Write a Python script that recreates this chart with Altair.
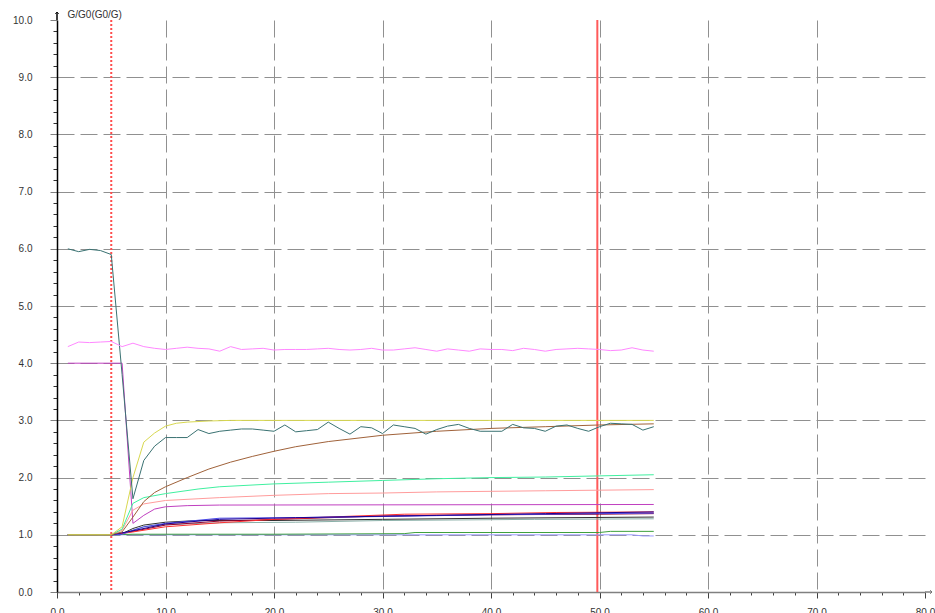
import altair as alt
import pandas as pd

# ---- time axis for the sampled traces ----
t_full = list(range(1, 56))

# noisy traces sampled every second
teal_v = [6.00, 5.95, 5.99, 5.97, 5.90, 3.80, 1.63, 2.30, 2.55, 2.70,
          2.70, 2.70, 2.84, 2.77, 2.81, 2.83, 2.85, 2.85, 2.83, 2.81,
          2.92, 2.80, 2.82, 2.84, 2.97, 2.86, 2.76, 2.89, 2.87, 2.77,
          2.92, 2.89, 2.86, 2.76, 2.84, 2.90, 2.93, 2.86, 2.81, 2.81,
          2.81, 2.93, 2.87, 2.86, 2.81, 2.90, 2.92, 2.86, 2.81, 2.89,
          2.95, 2.94, 2.93, 2.83, 2.89]
violet_v = [4.29, 4.37, 4.36, 4.37, 4.38, 4.29, 4.35, 4.29, 4.26, 4.24,
            4.26, 4.28, 4.26, 4.25, 4.21, 4.29, 4.24, 4.25, 4.26, 4.23,
            4.24, 4.24, 4.24, 4.25, 4.26, 4.24, 4.23, 4.24, 4.26, 4.23,
            4.23, 4.25, 4.27, 4.24, 4.21, 4.25, 4.23, 4.21, 4.25, 4.24,
            4.24, 4.22, 4.26, 4.24, 4.21, 4.24, 4.25, 4.26, 4.25, 4.24,
            4.22, 4.23, 4.27, 4.23, 4.21]

# smoother traces (time, value)
lavender_t = [1, 5, 20, 40, 53, 54, 55]
lavender_v = [1.00, 1.00, 1.00, 1.00, 1.00, 0.98, 0.98]
dkgreen_t = [1, 5, 7, 20, 32, 33, 50, 51, 55]
dkgreen_v = [1.00, 1.00, 1.01, 1.01, 1.02, 1.04, 1.04, 1.06, 1.06]
grayteal_t = [1, 5, 6, 7, 8, 10, 15, 22, 30, 44, 55]
grayteal_v = [1.00, 1.00, 1.01, 1.08, 1.14, 1.18, 1.21, 1.22, 1.25, 1.27, 1.28]
black_t = [1, 5, 6, 7, 8, 10, 13, 20, 30, 40, 55]
black_v = [1.00, 1.00, 1.02, 1.11, 1.17, 1.22, 1.25, 1.25, 1.27, 1.29, 1.31]
maroon_t = [1, 5, 7, 10, 15, 22, 30, 40, 50, 55]
maroon_v = [1.00, 1.00, 1.06, 1.17, 1.24, 1.28, 1.33, 1.35, 1.36, 1.37]
red_t = [1, 5, 7, 10, 15, 20, 25, 32, 40, 46, 55]
red_v = [1.00, 1.00, 1.05, 1.14, 1.21, 1.27, 1.31, 1.36, 1.37, 1.39, 1.40]
blue_t = [1, 5, 6, 7, 8, 10, 15, 22, 30, 40, 50, 55]
blue_v = [1.00, 1.00, 1.01, 1.08, 1.14, 1.20, 1.29, 1.30, 1.32, 1.35, 1.37, 1.38]
navy_t = [1, 5, 7, 10, 15, 22, 35, 45, 55]
navy_v = [1.00, 1.00, 1.07, 1.19, 1.27, 1.30, 1.34, 1.37, 1.40]
magenta_t = [1, 6, 7, 8, 9, 10, 12, 15, 55]
magenta_v = [4.00, 4.00, 1.20, 1.34, 1.45, 1.49, 1.51, 1.52, 1.53]
salmon_t = [1, 5, 6, 7, 8, 10, 13, 15, 20, 25, 30, 35, 40, 45, 50, 55]
salmon_v = [1.00, 1.00, 1.08, 1.43, 1.54, 1.60, 1.63, 1.65, 1.69, 1.72,
            1.73, 1.75, 1.76, 1.77, 1.78, 1.79]
spring_t = [1, 5, 6, 7, 8, 10, 13, 15, 20, 25, 30, 35, 40, 45, 50, 55]
spring_v = [1.00, 1.00, 1.10, 1.55, 1.65, 1.72, 1.80, 1.84, 1.89, 1.92,
            1.95, 1.98, 2.00, 2.01, 2.03, 2.05]
brown_t = [1, 5, 6, 7, 8, 9, 10, 12, 14, 16, 18, 20, 22, 25, 30, 35, 40, 45, 50, 55]
brown_v = [1.00, 1.00, 1.05, 1.31, 1.58, 1.74, 1.84, 2.00, 2.15, 2.27,
           2.37, 2.46, 2.54, 2.63, 2.74, 2.81, 2.86, 2.89, 2.92, 2.94]
yellow_t = [1, 5, 6, 7, 8, 9, 10, 11, 12, 14, 16, 55]
yellow_v = [1.00, 1.00, 1.14, 2.00, 2.62, 2.78, 2.90, 2.95, 2.97, 2.99, 3.00, 3.00]

# event markers (stimulus start, end of window)
marker_dotted = [5.0]
marker_solid = [49.8]

# drawing order (first drawn first) and colours
series = [
    ("lavender", lavender_t, lavender_v, "#9999FF"),
    ("dkgreen", dkgreen_t, dkgreen_v, "#3FA03F"),
    ("grayteal", grayteal_t, grayteal_v, "#8AB0A8"),
    ("black", black_t, black_v, "#303030"),
    ("maroon", maroon_t, maroon_v, "#900030"),
    ("red", red_t, red_v, "#FF3030"),
    ("blue", blue_t, blue_v, "#4848E8"),
    ("navy", navy_t, navy_v, "#200090"),
    ("magenta", magenta_t, magenta_v, "#C040C0"),
    ("salmon", salmon_t, salmon_v, "#FF9C9C"),
    ("spring", spring_t, spring_v, "#40F0A0"),
    ("brown", brown_t, brown_v, "#A0623A"),
    ("yellow", yellow_t, yellow_v, "#D8D850"),
    ("teal", t_full, teal_v, "#3A7272"),
    ("violet", t_full, violet_v, "#FF88FF"),
]

rows = []
for k, (name, ts, vs, _) in enumerate(series):
    for t, v in zip(ts, vs):
        rows.append({"series": name, "t": t, "v": v, "z": k})
df = pd.DataFrame(rows)

names = [s[0] for s in series]
colors = [s[3] for s in series]

W, H = 868, 572
FONT = "Liberation Sans"

x_ticks = list(range(0, 81, 2))
y_ticks = [round(i * 0.2, 1) for i in range(0, 51)]

x_axis = alt.Axis(
    values=x_ticks, tickCount=200,
    labelExpr="datum.value % 10 == 0 ? format(datum.value, '.1f') : ''",
    labelOverlap=False, labelFlush=False,
    labelFont=FONT, labelFontSize=10, labelColor="#333333", labelPadding=9,
    domainColor="#808080", domainWidth=1.5,
    tickColor="#404040",
    tickSize={"condition": {"test": "datum.value % 10 == 0", "value": 6}, "value": 3},
    grid=True, gridColor="#909090", gridDash=[17, 6], gridWidth=1,
    gridOpacity={"condition": {"test": "datum.value % 10 == 0 && datum.value > 0 && datum.value < 80",
                               "value": 1}, "value": 0},
    title=None,
)
y_axis = alt.Axis(
    values=y_ticks, tickCount=200,
    labelExpr="datum.value % 1 == 0 ? format(datum.value, '.1f') : ''",
    labelOverlap=False, labelFlush=False,
    labelFont=FONT, labelFontSize=10, labelColor="#333333", labelPadding=18,
    domainColor="#000000", domainWidth=1.5,
    tickColor={"condition": {"test": "datum.value % 1 == 0", "value": "#808080"}, "value": "#303030"},
    tickSize={"condition": {"test": "datum.value % 1 == 0", "value": 7}, "value": 4},
    grid=True, gridColor="#909090", gridDash=[17, 6], gridWidth=1,
    gridOpacity={"condition": {"test": "datum.value % 1 == 0 && datum.value > 0 && datum.value < 10",
                               "value": 1}, "value": 0},
    title="G/G0(G0/G)", titleAngle=0, titleAlign="left", titleBaseline="middle",
    titleX=10, titleY=-6, titleFont=FONT, titleFontSize=10, titleFontWeight="normal",
    titleColor="#333333",
)

xs = alt.Scale(domain=[0, 80], nice=False, zero=False)
ys = alt.Scale(domain=[0, 10], nice=False, zero=False)

lines = alt.Chart(df).mark_line(strokeWidth=1, clip=True).encode(
    x=alt.X("t:Q", scale=xs, axis=x_axis),
    y=alt.Y("v:Q", scale=ys, axis=y_axis),
    color=alt.Color("series:N", scale=alt.Scale(domain=names, range=colors), legend=None),
    detail="series:N",
    order="t:Q",
)

dotted = alt.Chart(pd.DataFrame({"t": marker_dotted})).mark_rule(
    color="#FF4D4D", strokeWidth=2, strokeDash=[2, 2]
).encode(x=alt.X("t:Q", scale=xs))

solid = alt.Chart(pd.DataFrame({"t": marker_solid})).mark_rule(
    color="#FF5A5A", strokeWidth=2
).encode(x=alt.X("t:Q", scale=xs))

# axis line extensions with open arrow heads
y_ext = alt.Chart(pd.DataFrame({"a": [0]})).mark_rule(color="#000000", strokeWidth=1.5).encode(
    x=alt.value(0), y=alt.value(-8), y2=alt.value(0)
)
x_ext = alt.Chart(pd.DataFrame({"a": [0]})).mark_rule(color="#808080", strokeWidth=1.5).encode(
    x=alt.value(W), x2=alt.value(W + 7), y=alt.value(H)
)
y_head = alt.Chart(pd.DataFrame({"a": [0]})).mark_point(
    shape="M -1 1 L 0 0 L 1 1", filled=False, color="#000000", size=16, strokeWidth=1
).encode(x=alt.value(0), y=alt.value(-8))
x_head = alt.Chart(pd.DataFrame({"a": [0]})).mark_point(
    shape="M -1 -1 L 0 0 L -1 1", filled=False, color="#606060", size=16, strokeWidth=1
).encode(x=alt.value(W + 7), y=alt.value(H))

chart = alt.layer(
    dotted, solid, lines, y_ext, x_ext, y_head, x_head
).properties(
    width=W, height=H,
    autosize=alt.AutoSizeParams(type="none"),
    padding={"left": 57, "top": 20, "right": 10, "bottom": 42},
    background="#FFFFFF",
).configure_view(stroke=None)

chart.save("out.html", embed_options={"renderer": "svg", "actions": False})
